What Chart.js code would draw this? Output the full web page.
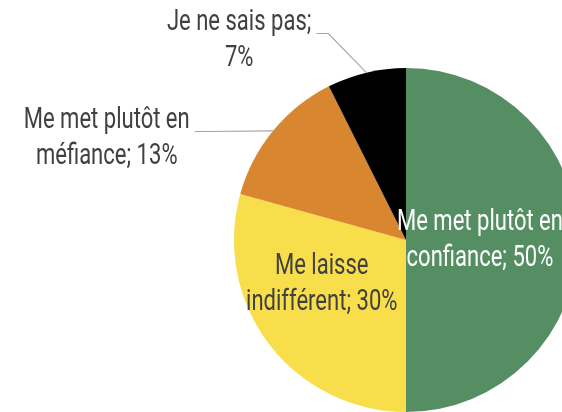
<!DOCTYPE html>
<html>
<head>
<meta charset="utf-8">
<script src="https://cdn.jsdelivr.net/npm/chart.js@4.4.0/dist/chart.umd.min.js"></script>
<style>
  html, body { margin: 0; padding: 0; background: #fff; overflow: hidden; }
  #wrap { position: relative; width: 640px; height: 412px; }
</style>
</head>
<body>
<div id="wrap"><canvas id="pie" width="640" height="412"></canvas></div>
<script>
const categories = ["Me met plutôt en confiance", "Me laisse indifférent", "Me met plutôt en méfiance", "Je ne sais pas"];
// slice sizes (labels show rounded %)
const values = [50, 29.3, 13.3, 7.4];
const labelLines = [
  ["Me met plutôt en", "confiance; 50%"],
  ["Me laisse", "indifférent; 30%"],
  ["Me met plutôt en", "méfiance; 13%"],
  ["Je ne sais pas;", "7%"]
];
const colors = ["#548E62", "#F9DE4B", "#D98631", "#000000"];

// label placement, relative to pie centre in radius units
const labelStyle = [
  { dx: 0.43, dy: 0.0, color: "#FFFFFF", leader: false },
  { dx: -0.49, dy: 0.26, color: "#404040", leader: false },
  { dx: -1.74, dy: -0.59, color: "#404040", leader: true },
  { dx: -0.97, dy: -1.16, color: "#404040", leader: true }
];

const labelPlugin = {
  id: "pieLabels",
  afterDatasetsDraw(chart) {
    const c = chart.ctx;
    const meta = chart.getDatasetMeta(0);
    c.save();
    c.font = "30px Roboto, 'DejaVu Sans', sans-serif";
    c.textAlign = "center";
    c.textBaseline = "middle";
    // squeeze text horizontally to get a narrow look
    const sx = 166 / c.measureText("Me met plutôt en").width;
    const lh = 36;
    meta.data.forEach((arc, i) => {
      const p = arc.getProps(["x", "y", "outerRadius", "startAngle", "endAngle"], true);
      const st = labelStyle[i];
      const cx = p.x + st.dx * p.outerRadius;
      const cy = p.y + st.dy * p.outerRadius;
      const lines = labelLines[i];
      const y0 = cy - lh * (lines.length - 1) / 2;
      if (st.leader) {
        const mid = (p.startAngle + p.endAngle) / 2;
        const ex = p.x + p.outerRadius * Math.cos(mid);
        const ey = p.y + p.outerRadius * Math.sin(mid);
        const w = c.measureText(lines[0]).width * sx;
        const lx = cx + w / 2 + 5;
        const ly = y0 + 11;
        c.strokeStyle = "#A6A6A6";
        c.lineWidth = 1.2;
        c.beginPath();
        c.moveTo(lx, ly);
        c.lineTo(lx + 12, ly);
        c.lineTo(ex, ey);
        c.stroke();
      }
      c.fillStyle = st.color;
      lines.forEach((t, k) => {
        c.save();
        c.translate(cx, y0 + k * lh);
        c.scale(sx, 1);
        c.fillText(t, 0, 0);
        c.restore();
      });
    });
    c.restore();
  }
};

new Chart(document.getElementById("pie"), {
  type: "pie",
  data: {
    labels: categories,
    datasets: [{
      data: values,
      backgroundColor: colors,
      borderWidth: 0
    }]
  },
  options: {
    responsive: false,
    animation: false,
    layout: { padding: { left: 234, right: 62, top: 68, bottom: 0 } },
    plugins: { legend: { display: false }, tooltip: { enabled: false } }
  },
  plugins: [labelPlugin]
});
</script>
</body>
</html>
